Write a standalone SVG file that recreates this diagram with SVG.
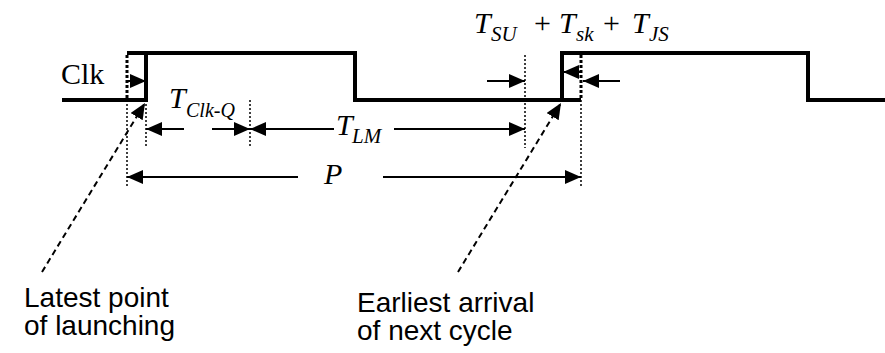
<svg xmlns="http://www.w3.org/2000/svg" width="885" height="353" viewBox="0 0 885 353">
<style>
.wave{fill:none;stroke:#000;stroke-width:4;stroke-linejoin:miter}
.dot{fill:none;stroke:#000;stroke-width:1.5;stroke-dasharray:2,2}
.dotb{fill:none;stroke:#000;stroke-width:3;stroke-dasharray:3,2}
.arr{fill:none;stroke:#000;stroke-width:2;marker-end:url(#ah)}
.ptr{fill:none;stroke:#000;stroke-width:2;stroke-dasharray:6,4;marker-end:url(#ah)}
.math{font-family:"Liberation Serif","Times New Roman",serif;font-style:italic;fill:#000}
.rm{font-family:"Liberation Serif","Times New Roman",serif;fill:#000}
.lbl{font-family:"Liberation Sans",Arial,sans-serif;font-size:28px;fill:#000}
</style>
<defs>
<marker id="ah" markerUnits="userSpaceOnUse" markerWidth="17" markerHeight="15" refX="16" refY="7" orient="auto">
<path d="M0,0 L16,7 L0,14 Z" fill="#000"/>
</marker>
</defs>
<g id="clock">
<path class="wave" d="M62,100 H146 V53 H355 V100 H562 V53 H808 V100 H885"/>
<path class="wave" d="M127,53 H146 M562,100 H581"/>
<text class="rm" x="61" y="84" font-size="30">Clk</text>
</g>
<g id="guides">
<path class="dotb" d="M127,55 V100 M581,55 V100"/>
<path class="dot" d="M127,100 V187 M581,100 V187 M146,100 V148 M250,100 V148 M525,55 V148"/>
</g>
<g id="connectors">
<path class="arr" d="M128,81 H146"/>
<path class="arr" d="M487,81 H525"/>
<path class="arr" d="M580,72 H563"/>
<path class="arr" d="M620,81 H583"/>
<path class="arr" d="M184,129 H146"/>
<path class="arr" d="M212,129 H250"/>
<path class="arr" d="M334,129 H250"/>
<path class="arr" d="M394,129 H525"/>
<path class="arr" d="M298,177 H127"/>
<path class="arr" d="M383,177 H581"/>
<path class="ptr" d="M42,272 L145,103"/>
<path class="ptr" d="M458,272 L561,103"/>
</g>
<g id="tclkq">
<text class="math" x="169" y="108" font-size="30">T</text>
<text class="math" x="186" y="117" font-size="20">Clk-Q</text>
</g>
<g id="tlm">
<text class="math" x="336" y="135" font-size="30">T</text>
<text class="math" x="352" y="143" font-size="21">LM</text>
</g>
<g id="p">
<text class="math" x="324" y="184" font-size="30">P</text>
</g>
<g id="tsum">
<text class="math" x="474" y="33" font-size="30">T</text>
<text class="math" x="491" y="41" font-size="21">SU</text>
<text class="rm" x="534" y="33" font-size="30">+</text>
<text class="math" x="559" y="33" font-size="30">T</text>
<text class="math" x="576" y="41" font-size="21">sk</text>
<text class="rm" x="603" y="33" font-size="30">+</text>
<text class="math" x="632" y="33" font-size="30">T</text>
<text class="math" x="649" y="41" font-size="21">JS</text>
</g>
<g id="launch">
<text class="lbl" x="24" y="307">Latest point</text>
<text class="lbl" x="24" y="335">of launching</text>
</g>
<g id="arrival">
<text class="lbl" x="357" y="312">Earliest arrival</text>
<text class="lbl" x="357" y="340">of next cycle</text>
</g>
</svg>
